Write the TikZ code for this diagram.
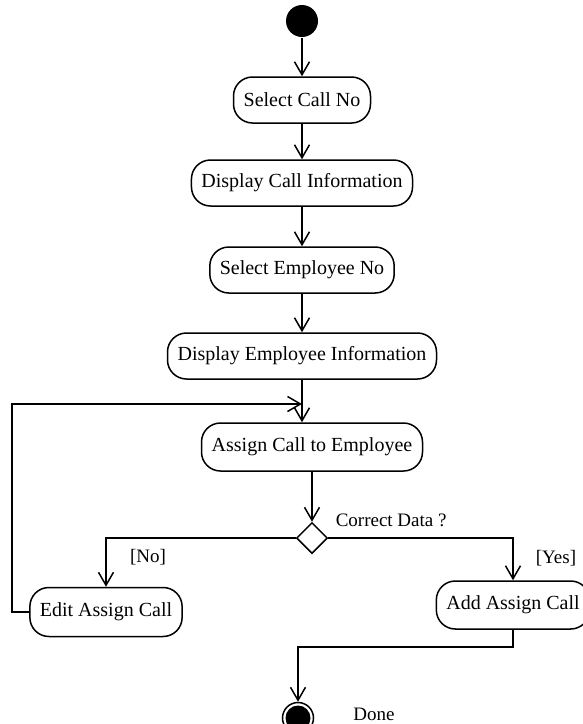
\documentclass[tikz,border=0pt]{standalone}
\usepackage{fontspec}
\setmainfont{Liberation Serif}
\usetikzlibrary{arrows.meta,shapes.geometric}
\begin{document}
\begin{tikzpicture}[x=1pt,y=-1pt,
  line width=1.5pt,
  act/.style={draw, rounded corners=19pt, minimum height=46pt, inner xsep=10pt, inner ysep=0pt,
              font=\fontsize{20}{24}\selectfont, anchor=center},
  arr/.style={-{Straight Barb[length=13pt,width=15pt,line width=1.5pt]}},
  lbl/.style={font=\fontsize{19}{22}\selectfont, inner sep=0pt}]
\useasboundingbox (0,0) rectangle (583,724);

\node[circle, fill, inner sep=0pt, minimum size=32pt] (st) at (302,21) {};
\node[act, minimum width=137pt] (scn) at (302,100) {Select Call No};
\node[act, minimum width=221pt] (dci) at (302,183) {Display Call Information};
\node[act, minimum width=184pt] (sen) at (302,270) {Select Employee No};
\node[act, minimum width=269pt] (dei) at (302,356) {Display Employee Information};
\node[act, minimum width=221pt, minimum height=48pt] (ace) at (312,447) {Assign Call to Employee};
\node[diamond, draw, inner sep=0pt, minimum size=31pt] (dec) at (312,538) {};
\node[act, minimum width=152pt, minimum height=49pt] (eac) at (106,612) {Edit Assign Call};
\node[act, minimum width=146pt, minimum height=48pt] (aac) at (513,605) {Add Assign Call};
\node[circle, draw, inner sep=0pt, minimum size=31pt] (endc) at (298,718) {};
\fill (endc.center) circle (12.5pt);

\node[lbl, anchor=west] (cd) at (335,520) {Correct Data ?};
\node[lbl] (no) at (148,557) {[No]};
\node[lbl] (yes) at (556,558) {[Yes]};
\node[lbl] (done) at (374,714) {Done};

\coordinate (lp) at (12,404);

\draw[arr] (st.south) -- (scn.north);
\draw[arr] (scn.south) -- (dci.north);
\draw[arr] (dci.south) -- (sen.north);
\draw[arr] (sen.south) -- (dei.north);
\draw[arr] (dei.south) -- (dei.south |- ace.north);
\draw[arr] (eac.west) -| (lp) -- (lp -| dei.south);
\draw[arr] (ace.south) -- (dec.north);
\draw[arr] (dec.west) -| (eac.north);
\draw[arr] (dec.east) -| (aac.north);
\draw[arr] (aac.south) -- (aac.south |- 0,647) -| (endc.north);
\end{tikzpicture}
\end{document}
